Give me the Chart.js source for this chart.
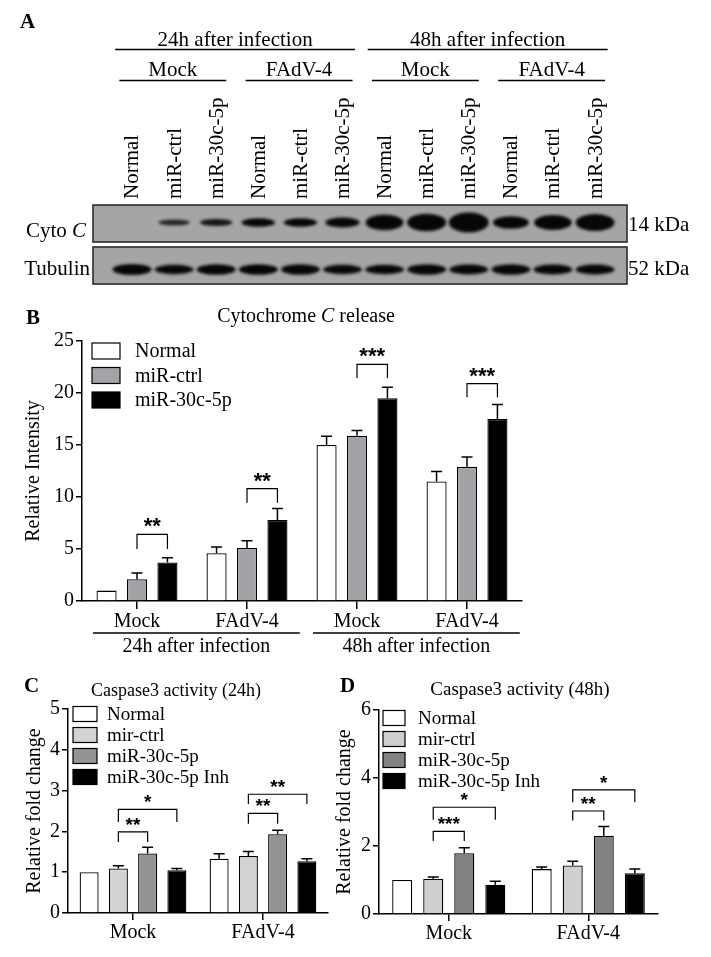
<!DOCTYPE html>
<html>
<head>
<meta charset="utf-8">
<script src="https://cdn.jsdelivr.net/npm/chart.js@4.4.1/dist/chart.umd.min.js"></script>
<style>
  html, body { margin: 0; padding: 0; background: #fff; }
  #page { position: relative; width: 711px; height: 957px; overflow: hidden; background: #fff; }
  #page canvas { position: absolute; }
</style>
</head>
<body>
<div id="page">
  <canvas id="chartA" width="711" height="300" style="left:0;top:0"></canvas>
  <canvas id="chartB" width="711" height="365" style="left:0;top:300px"></canvas>
  <canvas id="chartC" width="335" height="292" style="left:0;top:665px"></canvas>
  <canvas id="chartD" width="379" height="292" style="left:332px;top:665px"></canvas>
</div>
<script>
// ---------- data : panel A (western blot) ----------
const lanes = ['Normal', 'miR-ctrl', 'miR-30c-5p', 'Normal', 'miR-ctrl', 'miR-30c-5p',
               'Normal', 'miR-ctrl', 'miR-30c-5p', 'Normal', 'miR-ctrl', 'miR-30c-5p'];
const laneGroups = ['Mock', 'FAdV-4', 'Mock', 'FAdV-4'];
const timeGroups = ['24h after infection', '48h after infection'];
const blotRows = ['Cyto C', 'Tubulin'];
const blotSizes = ['14 kDa', '52 kDa'];
// relative band strength read from the blot
const cytoCBand = [0.0, 0.30, 0.36, 0.46, 0.45, 0.52, 0.82, 0.92, 1.05, 0.66, 0.80, 0.90];
const tubulinBand = [0.58, 0.50, 0.56, 0.56, 0.54, 0.50, 0.50, 0.54, 0.53, 0.54, 0.53, 0.53];

// ---------- data : panel B ----------
const groupsB = ['Mock', 'FAdV-4', 'Mock', 'FAdV-4'];
const timesB = ['24h after infection', '48h after infection'];
const seriesB = ['Normal', 'miR-ctrl', 'miR-30c-5p'];
const normalB = [1.0, 4.6, 15.0, 11.5];
const ctrlB = [2.1, 5.1, 15.9, 12.9];
const mir30cB = [3.7, 7.8, 19.5, 17.5];
const normalBErr = [0, 0.6, 0.85, 0.95];
const ctrlBErr = [0.6, 0.7, 0.5, 0.95];
const mir30cBErr = [0.45, 1.1, 1.05, 1.4];
const sigB = [
  { group: 0, from: 1, to: 2, top: 6.4, leg: 5.0, text: '**' },
  { group: 1, from: 1, to: 2, top: 10.8, leg: 9.45, text: '**' },
  { group: 2, from: 1, to: 2, top: 22.75, leg: 21.45, text: '***' },
  { group: 3, from: 1, to: 2, top: 20.9, leg: 19.6, text: '***' }
];

// ---------- data : panel C ----------
const groupsC = ['Mock', 'FAdV-4'];
const seriesC = ['Normal', 'mir-ctrl', 'miR-30c-5p', 'miR-30c-5p Inh'];
const normalC = [1.0, 1.33];
const ctrlC = [1.09, 1.40];
const mir30cC = [1.46, 1.93];
const inhC = [1.05, 1.27];
const normalCErr = [0, 0.12];
const ctrlCErr = [0.07, 0.11];
const mir30cCErr = [0.15, 0.10];
const inhCErr = [0.04, 0.06];
const sigC = [
  { group: 0, from: 1, to: 2, top: 1.99, leg: 1.74, text: '**' },
  { group: 0, from: 1, to: 3, top: 2.54, leg: 2.23, text: '*' },
  { group: 1, from: 1, to: 2, top: 2.44, leg: 2.19, text: '**' },
  { group: 1, from: 1, to: 3, top: 2.91, leg: 2.67, text: '**' }
];

// ---------- data : panel D ----------
const groupsD = ['Mock', 'FAdV-4'];
const seriesD = ['Normal', 'mir-ctrl', 'miR-30c-5p', 'miR-30c-5p Inh'];
const normalD = [1.0, 1.32];
const ctrlD = [1.04, 1.43];
const mir30cD = [1.79, 2.30];
const inhD = [0.86, 1.20];
const normalDErr = [0, 0.06];
const ctrlDErr = [0.05, 0.12];
const mir30cDErr = [0.16, 0.27];
const inhDErr = [0.10, 0.12];
const sigD = [
  { group: 0, from: 1, to: 2, top: 2.43, leg: 2.15, text: '***' },
  { group: 0, from: 1, to: 3, top: 3.14, leg: 2.77, text: '*' },
  { group: 1, from: 1, to: 2, top: 3.03, leg: 2.75, text: '**' },
  { group: 1, from: 1, to: 3, top: 3.65, leg: 3.29, text: '*' }
];

const SERIF = "'Liberation Serif', 'Times New Roman', serif";
const SANS = "'Liberation Sans', Arial, sans-serif";
Chart.defaults.font.family = SERIF;
Chart.defaults.font.size = 20;
Chart.defaults.color = '#000';

// text with an italic piece, centred on cx
function mixedText(ctx, parts, cx, y, size, align) {
  const widths = parts.map(p => {
    ctx.font = (p.i ? 'italic ' : '') + size + 'px ' + SERIF;
    return ctx.measureText(p.t).width;
  });
  const total = widths.reduce((a, b) => a + b, 0);
  let x = align === 'right' ? cx - total : cx - total / 2;
  ctx.textAlign = 'left';
  parts.forEach((p, k) => {
    ctx.font = (p.i ? 'italic ' : '') + size + 'px ' + SERIF;
    ctx.fillText(p.t, x, y);
    x += widths[k];
  });
}

// one blurred band, used as point style
function bandImage(w, h, alpha) {
  const c = document.createElement('canvas');
  c.width = Math.round(w + 16);
  c.height = Math.round(h + 16);
  const g = c.getContext('2d');
  if (h <= 0) return c;
  g.filter = 'blur(1.6px)';
  g.fillStyle = 'rgba(6,6,6,' + alpha + ')';
  g.beginPath();
  g.ellipse(c.width / 2, c.height / 2, w / 2, h / 2, 0, 0, Math.PI * 2);
  g.fill();
  return c;
}
const cytoImgs = cytoCBand.map(v => bandImage(28 + 12 * Math.min(v, 1), 19 * v, Math.min(1, 0.55 + v)));
const tubImgs = tubulinBand.map(v => bandImage(39, 19 * v, 1));

// -------------------------------
// Panel A : blot frame and labels
// -------------------------------
const blotDecor = {
  id: 'blotDecor',
  beforeDatasetsDraw(chart, args, o) {
    const { ctx, chartArea: a, scales: { y } } = chart;
    ctx.save();
    ctx.fillStyle = '#a5a5a5';
    o.boxes.forEach(b => {
      const t = y.getPixelForValue(b[0]), bt = y.getPixelForValue(b[1]);
      ctx.fillRect(a.left, t, a.right - a.left, bt - t);
    });
    ctx.restore();
  },
  afterDatasetsDraw(chart, args, o) {
    const { ctx, chartArea: a, scales: { y } } = chart;
    ctx.save();
    ctx.strokeStyle = '#2b2b2b';
    ctx.lineWidth = 1.6;
    o.boxes.forEach(b => {
      const t = y.getPixelForValue(b[0]), bt = y.getPixelForValue(b[1]);
      ctx.strokeRect(a.left, t, a.right - a.left, bt - t);
    });
    ctx.restore();
  },
  afterDraw(chart) {
    const { ctx, scales: { x, y } } = chart;
    ctx.save();
    ctx.fillStyle = '#000';
    ctx.strokeStyle = '#000';
    ctx.lineWidth = 1.5;
    ctx.textBaseline = 'alphabetic';
    ctx.font = 'bold 21px ' + SERIF;
    ctx.textAlign = 'left';
    ctx.fillText('A', 20, 28);

    const header = (text, a, b, padA, padB, textY, lineY) => {
      const x1 = x.getPixelForValue(a - padA), x2 = x.getPixelForValue(b + padB);
      ctx.font = '21px ' + SERIF;
      ctx.textAlign = 'center';
      ctx.fillText(text, (x1 + x2) / 2, textY);
      ctx.beginPath();
      ctx.moveTo(x1, lineY);
      ctx.lineTo(x2, lineY);
      ctx.stroke();
    };
    timeGroups.forEach((t, k) => header(t, 6 * k + 1, 6 * k + 6, 0.4, 0.3, 46, 49.5));
    laneGroups.forEach((g, k) => header(g, 3 * k + 1, 3 * k + 3, 0.3, 0.24, 76, 80.5));

    // lane names, rotated
    ctx.font = '21px ' + SERIF;
    ctx.textAlign = 'left';
    ctx.textBaseline = 'middle';
    lanes.forEach((l, i) => {
      ctx.save();
      ctx.translate(x.getPixelForValue(i + 1), 199);
      ctx.rotate(-Math.PI / 2);
      ctx.fillText(l, 0, 1);
      ctx.restore();
    });

    // row names and sizes
    ctx.textBaseline = 'alphabetic';
    mixedText(ctx, [{ t: 'Cyto ', i: false }, { t: 'C', i: true }], 86, y.getPixelForValue(1) + 14.5, 21, 'right');
    mixedText(ctx, [{ t: blotRows[1], i: false }], 90, y.getPixelForValue(2) + 5.5, 21, 'right');
    ctx.font = '21px ' + SERIF;
    ctx.textAlign = 'left';
    ctx.fillText(blotSizes[0], 628, y.getPixelForValue(1) + 8);
    ctx.fillText(blotSizes[1], 628, y.getPixelForValue(2) + 5.5);
    ctx.restore();
  }
};

new Chart(document.getElementById('chartA'), {
  type: 'scatter',
  data: {
    datasets: [
      { label: blotRows[0], data: cytoCBand.map((v, i) => ({ x: i + 1, y: 1 })),
        pointStyle: c => cytoImgs[c.dataIndex], pointRadius: 1 },
      { label: blotRows[1], data: tubulinBand.map((v, i) => ({ x: i + 1, y: 2 })),
        pointStyle: c => tubImgs[c.dataIndex], pointRadius: 1 }
    ]
  },
  options: {
    responsive: false,
    animation: false,
    events: [],
    layout: { padding: { left: 93, right: 84, top: 199, bottom: 7 } },
    scales: {
      x: { type: 'linear', display: false, min: 0.074, max: 12.76 },
      y: { type: 'linear', display: false, min: 0.5, max: 2.5, reverse: true }
    },
    plugins: {
      legend: { display: false },
      tooltip: { enabled: false },
      blotDecor: { boxes: [[0.628, 1.415], [1.521, 2.309]] }
    }
  },
  plugins: [blotDecor]
});

// -------------------------------
// Panels B, C, D : error bars, brackets, legend, titles
// -------------------------------
const panelExtras = {
  id: 'panelExtras',
  afterDatasetsDraw(chart, args, o) {
    const ctx = chart.ctx, ys = chart.scales.y;
    ctx.save();
    ctx.strokeStyle = '#000';
    ctx.lineWidth = 1.5;
    o.errors.forEach((errs, di) => {
      const vals = chart.data.datasets[di].data;
      chart.getDatasetMeta(di).data.forEach((bar, i) => {
        if (!errs[i]) return;
        const yt = ys.getPixelForValue(vals[i] + errs[i]);
        ctx.beginPath();
        ctx.moveTo(bar.x, bar.y);
        ctx.lineTo(bar.x, yt);
        ctx.moveTo(bar.x - o.cap, yt);
        ctx.lineTo(bar.x + o.cap, yt);
        ctx.stroke();
      });
    });
    ctx.lineWidth = 1.2;
    ctx.fillStyle = '#000';
    ctx.font = o.starFont;
    ctx.textAlign = 'center';
    ctx.textBaseline = 'alphabetic';
    o.sig.forEach(s => {
      const x1 = chart.getDatasetMeta(s.from).data[s.group].x;
      const x2 = chart.getDatasetMeta(s.to).data[s.group].x;
      const yt = ys.getPixelForValue(s.top), yl = ys.getPixelForValue(s.leg);
      ctx.beginPath();
      ctx.moveTo(x1, yl);
      ctx.lineTo(x1, yt);
      ctx.lineTo(x2, yt);
      ctx.lineTo(x2, yl);
      ctx.stroke();
      ctx.fillText(s.text, (x1 + x2) / 2, yt - 1);
    });
    ctx.restore();
  },
  afterDraw(chart, args, o) {
    const ctx = chart.ctx, xs = chart.scales.x;
    ctx.save();
    ctx.fillStyle = '#000';
    ctx.textBaseline = 'alphabetic';
    ctx.textAlign = 'left';
    ctx.font = 'bold 21px ' + SERIF;
    ctx.fillText(o.letter.text, o.letter.x, o.letter.y);
    mixedText(ctx, o.title.parts, o.title.x, o.title.y, o.title.size, 'center');

    // legend
    const L = o.legend;
    chart.data.datasets.forEach((ds, i) => {
      const cy = L.y + i * L.dy;
      ctx.fillStyle = ds.backgroundColor;
      ctx.fillRect(L.x, cy - L.h / 2, L.w, L.h);
      ctx.strokeStyle = '#000';
      ctx.lineWidth = 1.2;
      ctx.strokeRect(L.x, cy - L.h / 2, L.w, L.h);
      ctx.fillStyle = '#000';
      ctx.font = L.size + 'px ' + SERIF;
      ctx.textAlign = 'left';
      ctx.textBaseline = 'middle';
      ctx.fillText(ds.label, L.textX, cy + 1);
    });

    // time spans under the x axis
    if (o.spans) {
      const cw = xs.width / chart.data.labels.length;
      ctx.strokeStyle = '#000';
      ctx.lineWidth = 1.5;
      ctx.font = '20px ' + SERIF;
      ctx.textAlign = 'center';
      ctx.textBaseline = 'alphabetic';
      o.spans.items.forEach(s => {
        const x1 = xs.getPixelForValue(s.from) - 0.4 * cw;
        const x2 = xs.getPixelForValue(s.to) + 0.48 * cw;
        ctx.beginPath();
        ctx.moveTo(x1, o.spans.lineY);
        ctx.lineTo(x2, o.spans.lineY);
        ctx.stroke();
        ctx.fillText(s.text, (x1 + x2) / 2, o.spans.textY);
      });
    }
    ctx.restore();
  }
};

function axisX(height, tickLen, pad) {
  return {
    grid: { display: true, drawOnChartArea: false, offset: false, tickLength: tickLen, color: '#000', lineWidth: 1.5 },
    border: { color: '#000', width: 1.5 },
    ticks: { color: '#000', font: { size: 20 }, padding: pad, maxRotation: 0 },
    z: 1,
    afterFit: s => { s.height = height; }
  };
}
function axisY(width, max, step, title, titlePad) {
  return {
    min: 0, max: max,
    grid: { drawOnChartArea: false, tickLength: 6, color: '#000', lineWidth: 1.5 },
    border: { color: '#000', width: 1.5 },
    ticks: { stepSize: step, color: '#000', font: { size: 20 }, padding: 2 },
    title: { display: true, text: title, color: '#000', font: { size: 20 }, padding: { top: titlePad, bottom: 0 } },
    afterFit: s => { s.width = width; }
  };
}

// ----- B
new Chart(document.getElementById('chartB'), {
  type: 'bar',
  data: {
    labels: groupsB,
    datasets: [
      { label: seriesB[0], data: normalB, backgroundColor: '#ffffff' },
      { label: seriesB[1], data: ctrlB, backgroundColor: '#a3a3a7' },
      { label: seriesB[2], data: mir30cB, backgroundColor: '#000000' }
    ]
  },
  options: {
    responsive: false,
    animation: false,
    events: [],
    layout: { padding: { left: 0, right: 189, top: 41, bottom: 0 } },
    datasets: { bar: { borderColor: '#000', borderWidth: 1.3, barPercentage: 0.66, categoryPercentage: 0.83 } },
    scales: {
      x: axisX(64, 8, 1),
      y: axisY(82, 25, 5, 'Relative Intensity', 22)
    },
    plugins: {
      legend: { display: false },
      tooltip: { enabled: false },
      panelExtras: {
        errors: [normalBErr, ctrlBErr, mir30cBErr],
        sig: sigB,
        cap: 5.5,
        starFont: 'bold 22px ' + SANS,
        letter: { text: 'B', x: 26, y: 24 },
        title: { parts: [{ t: 'Cytochrome ', i: false }, { t: 'C', i: true }, { t: ' release', i: false }], x: 306, y: 22, size: 20 },
        legend: { x: 92, y: 51, dy: 24.5, w: 28, h: 16, textX: 135, size: 20 },
        spans: { lineY: 333, textY: 352, items: timesB.map((t, k) => ({ text: t, from: 2 * k, to: 2 * k + 1 })) }
      }
    }
  },
  plugins: [panelExtras]
});

// ----- C
new Chart(document.getElementById('chartC'), {
  type: 'bar',
  data: {
    labels: groupsC,
    datasets: [
      { label: seriesC[0], data: normalC, backgroundColor: '#ffffff' },
      { label: seriesC[1], data: ctrlC, backgroundColor: '#d3d3d3' },
      { label: seriesC[2], data: mir30cC, backgroundColor: '#949494' },
      { label: seriesC[3], data: inhC, backgroundColor: '#000000' }
    ]
  },
  options: {
    responsive: false,
    animation: false,
    events: [],
    layout: { padding: { left: 0, right: 7, top: 44, bottom: 0 } },
    datasets: { bar: { borderColor: '#000', borderWidth: 1.3, barPercentage: 0.65, categoryPercentage: 0.9 } },
    scales: {
      x: axisX(44, 7, 1),
      y: axisY(68, 5, 1, 'Relative fold change', 23)
    },
    plugins: {
      legend: { display: false },
      tooltip: { enabled: false },
      panelExtras: {
        errors: [normalCErr, ctrlCErr, mir30cCErr, inhCErr],
        sig: sigC,
        cap: 5.5,
        starFont: 'bold 19px ' + SANS,
        letter: { text: 'C', x: 24, y: 27 },
        title: { parts: [{ t: 'Caspase3 activity (24h)', i: false }], x: 176, y: 31, size: 18 },
        legend: { x: 73, y: 49, dy: 21, w: 24, h: 15, textX: 107, size: 19 }
      }
    }
  },
  plugins: [panelExtras]
});

// ----- D
new Chart(document.getElementById('chartD'), {
  type: 'bar',
  data: {
    labels: groupsD,
    datasets: [
      { label: seriesD[0], data: normalD, backgroundColor: '#ffffff' },
      { label: seriesD[1], data: ctrlD, backgroundColor: '#cfcfcf' },
      { label: seriesD[2], data: mir30cD, backgroundColor: '#828282' },
      { label: seriesD[3], data: inhD, backgroundColor: '#000000' }
    ]
  },
  options: {
    responsive: false,
    animation: false,
    events: [],
    layout: { padding: { left: 0, right: 53, top: 45, bottom: 0 } },
    datasets: { bar: { borderColor: '#000', borderWidth: 1.3, barPercentage: 0.645, categoryPercentage: 0.89 } },
    scales: {
      x: axisX(43, 7, 1),
      y: axisY(47, 6, 2, 'Relative fold change', 1)
    },
    plugins: {
      legend: { display: false },
      tooltip: { enabled: false },
      panelExtras: {
        errors: [normalDErr, ctrlDErr, mir30cDErr, inhDErr],
        sig: sigD,
        cap: 5.5,
        starFont: 'bold 19px ' + SANS,
        letter: { text: 'D', x: 8, y: 27 },
        title: { parts: [{ t: 'Caspase3 activity (48h)', i: false }], x: 188, y: 30, size: 19 },
        legend: { x: 51, y: 53, dy: 21, w: 22, h: 15, textX: 86, size: 19 }
      }
    }
  },
  plugins: [panelExtras]
});
</script>
</body>
</html>
